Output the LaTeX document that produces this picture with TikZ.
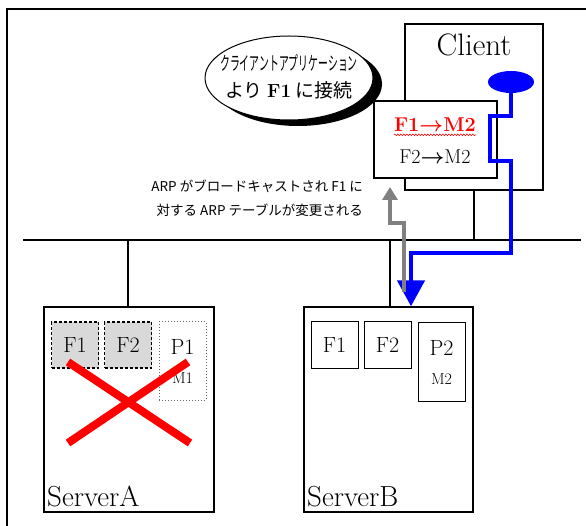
\documentclass[tikz,border=0pt]{standalone}
\usepackage{fontspec}
\newfontfamily\jpfont{Noto Sans CJK JP}
\usetikzlibrary{arrows.meta}
\usetikzlibrary{shapes.geometric}
\usetikzlibrary{decorations.pathmorphing}

% font sizes
\newcommand\clientfont{\fontsize{31}{34}\selectfont}
\newcommand\serverfont{\fontsize{29}{32}\selectfont}
\newcommand\portfont{\fontsize{22}{24}\selectfont}
\newcommand\macfont{\fontsize{16}{18}\selectfont}
\newcommand\rowfont{\fontsize{20}{24}\selectfont}

\begin{document}
\begin{tikzpicture}[x=1pt, y=-1pt,
    machine/.style={draw, line width=1.3pt, inner sep=0pt},
    txt/.style={inner sep=0pt},
    fport/.style={draw, line width=1pt, minimum width=47pt, minimum height=46pt, inner sep=0pt, font=\portfont},
    deadport/.style={fport, fill=black!15, line width=1.6pt, dash pattern=on 3pt off 2pt},
    pport/.style={draw, line width=1pt, minimum width=47pt, minimum height=78pt, inner sep=0pt},
    cross/.style={red, line width=8pt},
    bluepath/.style={draw=blue, line width=4.5pt, -{Triangle[length=26pt,width=27pt]}},
    arpflow/.style={draw=black!50, line width=4pt, -{Triangle[length=13pt,width=15pt]}}
]

% outer frame
\useasboundingbox (0,0) rectangle (586,526);
\draw[line width=2.6pt] (7,526) -- (7,9) -- (586,9);

% network bus and taps
\coordinate (busL) at (23,240);
\coordinate (busR) at (581,240);
\coordinate (tapA) at (128,240);
\coordinate (tapB) at (390,240);
\coordinate (tapC) at (474,240);
\draw[line width=1.5pt] (busL) -- (busR);

% servers
\node[machine, minimum width=170pt, minimum height=205pt] (srvA) at (129,409.5) {};
\node[machine, minimum width=169pt, minimum height=205pt] (srvB) at (388.5,409.5) {};
\draw[line width=1.3pt] (tapA) -- (tapA |- srvA.north);
\draw[line width=1.3pt] (tapB) -- (tapB |- srvB.north);
\node[txt, anchor=base west, font=\serverfont] (nameA) at (47,506) {ServerA};
\node[txt, anchor=base west, font=\serverfont] (nameB) at (307,506) {ServerB};

% ServerA (down)
\node[deadport] (a1) at (75,345) {F1};
\node[deadport] (a2) at (128,345) {F2};
\node[pport, dotted, draw=black!60] (a3) at (182.5,361) {};
\node[txt, font=\portfont] (a3name) at (182.5,347) {P1};
\node[txt, font=\macfont] (a3mac) at (182.5,378) {M1};
\draw[cross] (68,362) -- (190,443);
\draw[cross] (188,362) -- (68,443);

% ServerB
\node[fport] (b1) at (334.5,345) {F1};
\node[fport] (b2) at (387.5,345) {F2};
\node[pport] (b3) at (441.5,362) {};
\node[txt, font=\portfont] (b3name) at (441.5,348) {P2};
\node[txt, font=\macfont] (b3mac) at (441.5,379) {M2};

% client and its ARP table
\node[machine, minimum width=138pt, minimum height=166pt] (client) at (474,107) {};
\draw[line width=1.3pt] (client.south) -- (tapC);
\node[txt, font=\clientfont] (clientname) at (474,45) {Client};
\node[machine, fill=white, minimum width=123pt, minimum height=77pt] (arp) at (435.5,139.5) {};
\node[txt, font=\rowfont, text=red] (row1) at (435,125) {\bfseries F1{\boldmath$\rightarrow$}M2};
\node[txt, font=\rowfont] (row2) at (435,157) {F2{\boldmath$\rightarrow$}M2};
\draw[red, line width=0.6pt, decorate, decoration={snake, amplitude=0.8pt, segment length=3pt}]
    ([yshift=-3pt]row1.base west) -- ([yshift=-3pt]row1.base east);

% application and its connection to F1
\node[ellipse, fill=blue, minimum width=46pt, minimum height=22pt, inner sep=0pt] (app) at (511,82) {};
\coordinate (drop) at (411,253);
\draw[bluepath] (app.south) |- (490,116) |- (511,161) |- (drop) -- (drop |- srvB.north);

% ARP broadcast
\coordinate (arpfrom) at (404,292);
\coordinate (arpto) at (390,187);
\draw[arpflow] (arpfrom) -- ++(0,-69) -| (arpto);

% speech bubble
\node[ellipse, fill=black, minimum width=168pt, minimum height=84pt, inner sep=0pt] (bubbleshade) at (298,84) {};
\node[ellipse, draw, line width=1pt, fill=white, minimum width=168pt, minimum height=84pt, inner sep=0pt] (bubble) at (289,78) {};
\node[txt, align=center, font=\jpfont\fontsize{19}{27}\selectfont] (bubbletext) at (289,77)
    {\scalebox{0.52}[1]{クライアントアプリケーション}\\より {\rmfamily\bfseries F1} に接続};

% note on the ARP broadcast
\node[txt, anchor=east, align=right, font=\jpfont\fontsize{13.5}{24}\selectfont] (arpnote) at (363,198)
    {ARP がブロードキャストされ F1 に\\対する ARP テーブルが変更される};

\end{tikzpicture}
\end{document}
